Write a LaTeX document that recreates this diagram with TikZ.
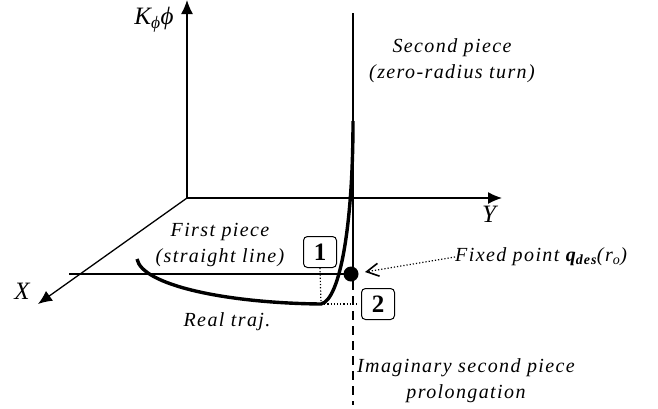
\documentclass[tikz,border=0pt]{standalone}
\usepackage{fontspec}
\setmainfont{Liberation Serif}
\usetikzlibrary{arrows.meta, positioning}

\begin{document}
\begin{tikzpicture}[
  x=1pt, y=-1pt,
  axis/.style={-{Latex[length=14pt,width=12pt]}, line width=1.3pt},
  piece/.style={line width=1.7pt},
  traj/.style={line width=3.4pt},
  guide/.style={line width=1.2pt, dotted},
  numbox/.style={draw, rounded corners=4pt, line width=1pt, minimum width=33pt,
    minimum height=31pt, inner sep=0pt, font=\fontsize{25}{25}\selectfont\bfseries},
  lbl/.style={font=\fontsize{20}{26}\selectfont\itshape\addfontfeature{LetterSpace=7},
    align=center, inner sep=0pt},
  axlbl/.style={font=\fontsize{25}{25}\selectfont\itshape, inner sep=0pt},
]
\useasboundingbox (0,0) rectangle (658,408);

%% axes
\coordinate (O) at (187,198);
\coordinate (Ztip) at (187,0);
\coordinate (Xtip) at (38,304);
\coordinate (Ytip) at (502,198);
\draw[axis] (O) -- (Ztip);
\draw[axis] (O) -- (Xtip);
\draw[axis] (O) -- (Ytip);
\node[axlbl] (Zlbl) at (154,20) {K\textsubscript{ϕ}ϕ};
\node[axlbl] (Xlbl) at (22,291) {X};
\node[axlbl] (Ylbl) at (489,214) {Y};

%% ideal path
\node[circle, fill=black, inner sep=0pt, minimum size=15pt] (qdes) at (351,274) {};
\coordinate (Lstart) at (69,274);
\coordinate (Vtop) at (353,13);
\coordinate (Vbot) at (353,405);
\draw[piece] (Lstart) -- (qdes.center);
\draw[piece] (Vtop) -- (353,274);
\draw[piece, dash pattern=on 9pt off 6pt] (353,281) -- (Vbot);

%% real trajectory
\coordinate (Tstart) at (137,259);
\coordinate (Tknee) at (321,304);
\coordinate (Tend) at (353,121);
\draw[traj] (Tstart) .. controls (142,285) and (225,303) .. (Tknee)
  .. controls (340,300) and (353,225) .. (Tend);

%% numbered markers
\node[numbox] (one) at (320,252) {1};
\node[numbox] (two) at (378,304) {2};
\draw[guide] (one.south) -- (Tknee);
\draw[guide] (Tknee) -- (357,304);

%% labels
\node[lbl] (second) at (452,61) {Second piece\\(zero-radius turn)};
\node[lbl] (first) at (220,245) {First piece\\(straight line)};
\node[lbl] (real) at (227,322) {Real traj.};
\node[lbl, anchor=west] (fixed) at (455,257) {Fixed point \textbf{q\textsubscript{des}}(r\textsubscript{o})};
\node[lbl] (imag) at (466,381) {Imaginary second piece\\prolongation};

\draw[guide, -{Straight Barb[length=12pt,width=13pt,line width=1.6pt]}] (fixed.west) -- (365,272);
\end{tikzpicture}
\end{document}
